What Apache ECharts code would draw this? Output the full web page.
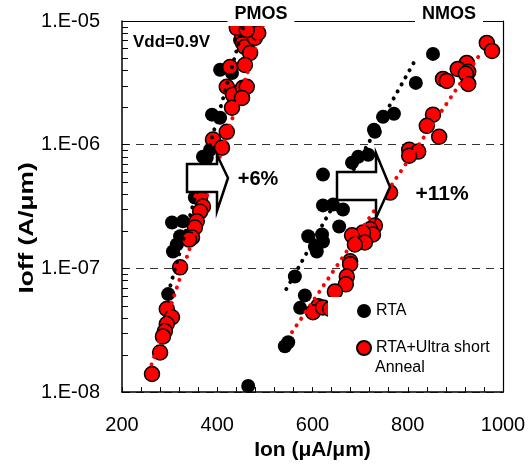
<!DOCTYPE html>
<html>
<head>
<meta charset="utf-8">
<script src="https://cdn.jsdelivr.net/npm/echarts@6/dist/echarts.min.js"></script>
<style>html,body{margin:0;padding:0;background:#fff;}#c{width:530px;height:466px;}</style>
</head>
<body>
<div id="c"></div>
<script>
// ---- data (Ion in µA/µm, Ioff in A/µm) ----
const xTicks = [200, 400, 600, 800, 1000];
const yTicks = [1e-8, 1e-7, 1e-6, 1e-5];
const yMinorTicks = [2e-8,3e-8,4e-8,5e-8,6e-8,7e-8,8e-8,9e-8,
                     2e-7,3e-7,4e-7,5e-7,6e-7,7e-7,8e-7,9e-7,
                     2e-6,3e-6,4e-6,5e-6,6e-6,7e-6,8e-6,9e-6];

const pmosRta = [[406,4.03e-6],[431,3.8e-6],[469,7.7e-6],[448,7.0e-6],[389,1.75e-6],[406,1.65e-6],
  [378,7.85e-7],[370,8.0e-7],[385,9.1e-7],[353,3.74e-7],[305,2.35e-7],[328,2.4e-7],[322,1.82e-7],
  [307,1.37e-7],[315,1.56e-7],[297,6.2e-8],[465,1.12e-8]];
const pmosAnneal = [[452,7.7e-6],[454,6.65e-6],[458,6.17e-6],[469,5.52e-6],[479,7.3e-6],[486,8.0e-6],
  [441,8.8e-6],[462,8.45e-6],[427,4.25e-6],[458,4.41e-6],[420,2.94e-6],[433,2.53e-6],[454,2.88e-6],
  [462,2.94e-6],[452,2.39e-6],[431,1.99e-6],[420,1.27e-6],[391,1.1e-6],[410,9.46e-7],[364,3.74e-7],
  [370,3.16e-7],[364,2.88e-7],[357,2.4e-7],[353,2.14e-7],[347,1.78e-7],[341,1.71e-7],[322,1.02e-7],
  [294,4.7e-8],[305,4.03e-8],[294,3.55e-8],[290,3.1e-8],[286,2.82e-8],[280,2.09e-8],[263,1.4e-8]];
const nmosRta = [[853,5.42e-6],[817,3.16e-6],[771,1.78e-6],[748,1.68e-6],[729,1.32e-6],[731,1.27e-6],
  [717,8.3e-7],[696,8.0e-7],[683,7.16e-7],[622,5.73e-7],[622,3.23e-7],[643,3.28e-7],[664,2.99e-7],
  [656,2.18e-7],[591,1.82e-7],[620,1.88e-7],[622,1.65e-7],[605,1.5e-7],[609,1.37e-7],[563,8.6e-8],
  [584,6.05e-8],[574,4.8e-8],[542,2.35e-8],[549,2.53e-8]];
const nmosAnneal = [[966,6.65e-6],[977,5.73e-6],[924,4.58e-6],[905,4.1e-6],[927,3.88e-6],[922,3.74e-6],
  [927,3.1e-6],[874,3.4e-6],[882,3.28e-6],[853,1.75e-6],[840,1.42e-6],[866,1.16e-6],[803,9.1e-7],
  [822,8.8e-7],[803,8.15e-7],[763,4.1e-7],[731,2.22e-7],[721,2.07e-7],[727,1.88e-7],[706,1.95e-7],
  [683,1.85e-7],[710,1.62e-7],[689,1.56e-7],[679,1.14e-7],[679,1.08e-7],[672,8.6e-8],[670,7.43e-8],
  [647,6.5e-8],[612,4.94e-8],[601,4.42e-8],[622,4.84e-8],[637,4.7e-8]];
const pmosRtaFit = [[297,6.3e-8],[458,1e-5]];
const pmosAnnealFit = [[262,1.67e-8],[499,1e-5]];
const nmosRtaFit = [[545,6.8e-8],[818,5.0e-6]];
const nmosAnnealFit = [[557,3.05e-8],[948,5.13e-6]];
const seriesNames = ['RTA', 'RTA+Ultra short Anneal'];

// ---- chart ----
const FONT = '"Liberation Sans", Arial, sans-serif';
const chart = echarts.init(document.getElementById('c'), null, {renderer: 'canvas'});

const blackStyle = {color: '#000', opacity: 1};
const redStyle = {color: '#ff0000', borderColor: '#000', borderWidth: 1.5, opacity: 1};
function fitLine(data, color) {
  return {type: 'line', data: data, symbol: 'none', showSymbol: false, silent: true, z: 3,
    lineStyle: {color: color, width: 4, type: [0.1, 8], cap: 'round'}};
}

const graphics = [
  {type: 'text', z: 100, x: 27, y: 228, rotation: Math.PI / 2, scaleX: 1.25,
    style: {text: 'Ioff (A/μm)', fontFamily: FONT, fontSize: 21, fontWeight: 'bold',
      fill: '#000', align: 'center', verticalAlign: 'middle'}},
  {type: 'polygon', z: 100, shape: {points: [[187,164],[217,164],[217,155],[228,178],[217,211],[217,192],[187,192]]},
    style: {fill: '#fff', stroke: '#000', lineWidth: 2.5, lineJoin: 'miter'}},
  {type: 'polygon', z: 100, shape: {points: [[337,172],[376,172],[376,153],[390,187],[376,218],[376,200],[337,200]]},
    style: {fill: '#fff', stroke: '#000', lineWidth: 2.5, lineJoin: 'miter'}},
  {type: 'text', z: 100, x: 261, y: 14, style: {text: 'PMOS', fontFamily: FONT, fontSize: 18, fontWeight: 'bold',
    fill: '#000', align: 'center', verticalAlign: 'middle', backgroundColor: '#fff', padding: [3, 7]}},
  {type: 'text', z: 100, x: 449, y: 14, style: {text: 'NMOS', fontFamily: FONT, fontSize: 18, fontWeight: 'bold',
    fill: '#000', align: 'center', verticalAlign: 'middle', backgroundColor: '#fff', padding: [3, 7]}},
  {type: 'text', z: 100, x: 133, y: 42, style: {text: 'Vdd=0.9V', fontFamily: FONT, fontSize: 17, fontWeight: 'bold',
    fill: '#000', align: 'left', verticalAlign: 'middle'}},
  {type: 'text', z: 100, x: 258, y: 179, style: {text: '+6%', fontFamily: FONT, fontSize: 20, fontWeight: 'bold',
    fill: '#000', align: 'center', verticalAlign: 'middle'}},
  {type: 'text', z: 100, x: 442, y: 194, style: {text: '+11%', fontFamily: FONT, fontSize: 21, fontWeight: 'bold',
    fill: '#000', align: 'center', verticalAlign: 'middle'}},
  {type: 'text', z: 100, x: 375, y: 368, style: {text: 'Anneal', fontFamily: FONT, fontSize: 16,
    fill: '#000', align: 'left', verticalAlign: 'middle'}}
];

const option = {
  animation: false,
  backgroundColor: '#fff',
  grid: {left: 122, right: 27, top: 21, bottom: 73},
  xAxis: [{
    type: 'value', min: xTicks[0], max: xTicks[xTicks.length - 1], interval: 200, position: 'bottom',
    name: 'Ion (μA/μm)', nameLocation: 'middle', nameGap: 47,
    nameTextStyle: {fontFamily: FONT, fontSize: 21, fontWeight: 'bold', color: '#000'},
    axisLine: {show: true, onZero: false, lineStyle: {color: '#000', width: 1.5}},
    axisTick: {show: true, inside: true, length: 5, lineStyle: {color: '#000', width: 1}},
    minorTick: {show: true, splitNumber: 5, length: 5, lineStyle: {color: '#000', width: 1}},
    axisLabel: {margin: 23, fontSize: 20, color: '#000', fontFamily: FONT, formatter: v => String(v)},
    splitLine: {show: false}
  }, {
    type: 'value', min: 200, max: 1000, position: 'top',
    axisLine: {show: true, onZero: false, lineStyle: {color: '#000', width: 1.2}},
    axisTick: {show: false}, axisLabel: {show: false}, splitLine: {show: false}
  }],
  yAxis: [{
    type: 'log', logBase: 10, min: yTicks[0], max: yTicks[yTicks.length - 1], position: 'left',
    axisLine: {show: true, onZero: false, lineStyle: {color: '#000', width: 1.5}},
    axisTick: {show: true, inside: true, length: 7, lineStyle: {color: '#000', width: 1}},
    axisLabel: {margin: 22, fontSize: 20, color: '#000', fontFamily: FONT,
      formatter: v => '1.E-0' + Math.round(-Math.log10(v))},
    splitLine: {show: true, lineStyle: {color: '#333', width: 1, type: [8, 6]}}
  }, {
    type: 'log', logBase: 10, min: 1e-8, max: 1e-5, position: 'right',
    axisLine: {show: true, onZero: false, lineStyle: {color: '#000', width: 1.2}},
    axisTick: {show: false}, axisLabel: {show: false}, splitLine: {show: false}
  }],
  legend: {
    orient: 'vertical', left: 328, top: 297, padding: [6, 5, 26, 28],
    itemWidth: 14, itemHeight: 14, itemGap: 21, backgroundColor: '#fff', selectedMode: false,
    data: [{name: seriesNames[0], icon: 'circle'}, {name: seriesNames[1], icon: 'circle'}],
    formatter: n => n === seriesNames[0] ? 'RTA' : 'RTA+Ultra short',
    textStyle: {fontSize: 16, fontFamily: FONT, color: '#000'}
  },
  series: [
    {type: 'scatter', name: seriesNames[0], data: pmosRta, symbolSize: 14, itemStyle: blackStyle},
    {type: 'scatter', name: seriesNames[0], data: nmosRta, symbolSize: 14, itemStyle: blackStyle},
    {type: 'scatter', name: seriesNames[1], data: pmosAnneal, symbolSize: 15, itemStyle: redStyle},
    {type: 'scatter', name: seriesNames[1], data: nmosAnneal, symbolSize: 15, itemStyle: redStyle},
    fitLine(pmosRtaFit, '#000'),
    fitLine(nmosRtaFit, '#000'),
    fitLine(pmosAnnealFit, '#ff0000'),
    fitLine(nmosAnnealFit, '#ff0000')
  ],
  graphic: graphics
};
chart.setOption(option);

// minor log ticks on the left axis, positioned through the chart's own y scale
const tickGraphics = yMinorTicks.map(v => {
  const p = chart.convertToPixel({xAxisIndex: 0, yAxisIndex: 0}, [xTicks[0], v]);
  const y = Math.round(p[1]) + 0.5;
  return {type: 'line', z: 50, shape: {x1: p[0], y1: y, x2: p[0] + 6, y2: y},
    style: {stroke: '#000', lineWidth: 1}};
});
chart.setOption({graphic: graphics.concat(tickGraphics)});
</script>
</body>
</html>
